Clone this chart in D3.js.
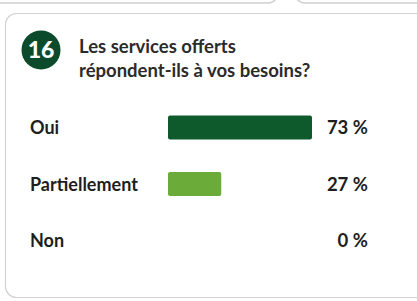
<!DOCTYPE html>
<html><head><meta charset="utf-8">
<script src="https://cdn.jsdelivr.net/npm/d3@7"></script>
<style>html,body{margin:0;padding:0;background:#fff;}svg{display:block;}</style>
</head><body>
<script>
const categories = ["Oui", "Partiellement", "Non"];
const values = [73, 27, 0];
const valueLabels = ["73 %", "27 %", "0 %"];
const barColors = ["#0e5a2d", "#6aab3a", "#6aab3a"];
const questionNumber = "16";
const titleLines = ["Les services offerts", "répondent-ils à vos besoins?"];

const W = 417, H = 301;
const svg = d3.select("body").append("svg").attr("width", W).attr("height", H);
const font = "Lato, 'Open Sans', sans-serif";

// partial cards above
svg.append("rect").attr("x", -20).attr("y", -40).attr("width", 298).attr("height", 43).attr("rx", 10)
  .attr("fill", "#fff").attr("stroke", "#cfcfcf").attr("stroke-width", 1.5);
svg.append("rect").attr("x", 295).attr("y", -40).attr("width", 160).attr("height", 43).attr("rx", 10)
  .attr("fill", "#fff").attr("stroke", "#cfcfcf").attr("stroke-width", 1.5);

// main card
svg.append("rect").attr("x", 5.5).attr("y", 13.5).attr("width", 440).attr("height", 284).attr("rx", 11)
  .attr("fill", "#fff").attr("stroke", "#d2d2d2").attr("stroke-width", 1.2);

// number badge
svg.append("circle").attr("cx", 41).attr("cy", 50).attr("r", 19.5).attr("fill", "#0b4a2a");
svg.append("text").attr("x", 41).attr("y", 58).attr("text-anchor", "middle")
  .attr("font-family", font).attr("font-weight", 900).attr("font-size", 23).attr("fill", "#fff")
  .text(questionNumber);

// title
svg.append("g").selectAll("text").data(titleLines).join("text")
  .attr("x", 79).attr("y", (d, i) => 53 + i * 24)
  .attr("font-family", font).attr("font-weight", 700).attr("font-size", 18.5).attr("fill", "#2b2b2b")
  .text(d => d);

// scales
const y = d3.scaleBand().domain(categories).range([115.5, 252.5]).paddingInner(0.575).paddingOuter(0);
const x = d3.scaleLinear().domain([0, 100]).range([168, 168 + 144 / 0.73]);

const rows = svg.append("g").selectAll("g").data(categories).join("g");
rows.append("rect")
  .attr("x", x(0)).attr("y", d => y(d))
  .attr("width", (d, i) => x(values[i]) - x(0)).attr("height", y.bandwidth())
  .attr("rx", 2).attr("fill", (d, i) => barColors[i]);
rows.append("text").attr("x", 30).attr("y", d => y(d) + y.bandwidth() / 2 + 6.5)
  .attr("font-family", font).attr("font-weight", 700).attr("font-size", 18).attr("fill", "#1e1e1e")
  .text(d => d);
rows.append("text").attr("x", 368).attr("y", d => y(d) + y.bandwidth() / 2 + 6.5)
  .attr("text-anchor", "end")
  .attr("font-family", font).attr("font-weight", 700).attr("font-size", 18.5).attr("fill", "#1e1e1e")
  .text((d, i) => valueLabels[i]);
</script>
</body></html>
